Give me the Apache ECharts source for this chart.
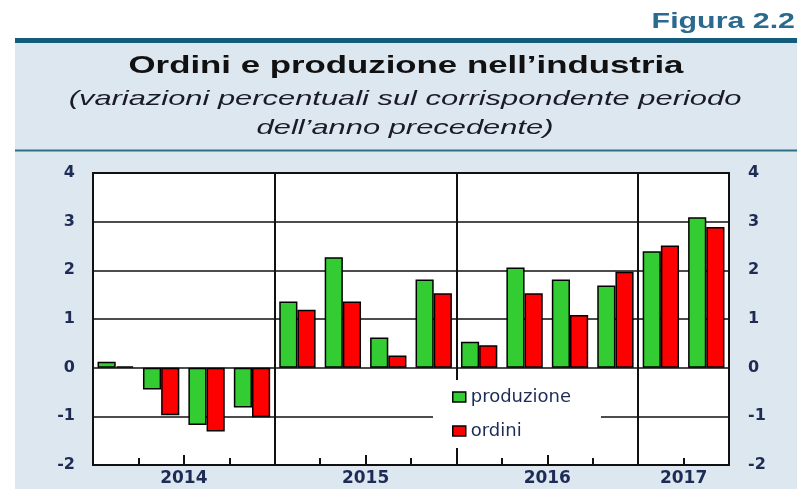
<!DOCTYPE html>
<html>
<head>
<meta charset="utf-8">
<script src="https://cdn.jsdelivr.net/npm/echarts@6/dist/echarts.min.js"></script>
<style>
html, body { margin: 0; padding: 0; background: #fff; }
#main { width: 797px; height: 489px; }
</style>
</head>
<body>
<div id="main"></div>
<script>
// trimestri 2014 T1 - 2017 T2
var quarters = ['2014 T1', '2014 T2', '2014 T3', '2014 T4',
	'2015 T1', '2015 T2', '2015 T3', '2015 T4',
	'2016 T1', '2016 T2', '2016 T3', '2016 T4',
	'2017 T1', '2017 T2']
var produzione = [0.12, -0.45, -1.18, -0.82, 1.36, 2.27, 0.62, 1.81, 0.53, 2.06, 1.81, 1.69, 2.39, 3.09]
var ordini = [0.03, -0.98, -1.31, -1.02, 1.19, 1.36, 0.25, 1.53, 0.46, 1.53, 1.08, 1.97, 2.51, 2.89]
var years = ['2014', '2015', '2016', '2017']
var yearLabelPos = [2, 6, 10, 13]
var quarterTicks = [1, 3, 5, 7, 9, 11, 13]
var midYearTicks = [2, 6, 10]
var yTicks = { min: -2, max: 4, step: 1 }

var navy = '#1d2b55'
var labelFont = 'DejaVu Sans'

var chart = echarts.init(document.getElementById('main'))

var option = {
	backgroundColor: '#dde7f0',
	animation: false,
	graphic: [
		// fascia bianca sopra e a sinistra
		{ type: 'rect', shape: { x: 0, y: 0, width: 797, height: 38 }, style: { fill: '#fff' }, silent: true },
		{ type: 'rect', shape: { x: 0, y: 0, width: 15, height: 489 }, style: { fill: '#fff' }, silent: true },
		{ type: 'rect', shape: { x: 15, y: 38, width: 782, height: 5 }, style: { fill: '#135d7a' }, silent: true },
		{ type: 'rect', shape: { x: 15, y: 149.5, width: 782, height: 2 }, style: { fill: '#2f6f88' }, silent: true },
		{
			type: 'text', x: 795, y: 22, scaleX: 1.38,
			style: { text: 'Figura 2.2', fontFamily: 'Liberation Sans', fontWeight: 'bold', fontSize: 22, fill: '#2a6a8f', align: 'right', verticalAlign: 'middle' }
		},
		{
			type: 'text', x: 406, y: 66, scaleX: 1.45,
			style: { text: 'Ordini e produzione nell\u2019industria', fontFamily: 'Liberation Sans', fontWeight: 'bold', fontSize: 24, fill: '#111', align: 'center', verticalAlign: 'middle' }
		},
		{
			type: 'text', x: 405, y: 99, scaleX: 1.47,
			style: { text: '(variazioni percentuali sul corrispondente periodo', fontFamily: 'Liberation Sans', fontStyle: 'italic', fontSize: 21, fill: '#1a1a2a', align: 'center', verticalAlign: 'middle' }
		},
		{
			type: 'text', x: 405, y: 128, scaleX: 1.47,
			style: { text: 'dell\u2019anno precedente)', fontFamily: 'Liberation Sans', fontStyle: 'italic', fontSize: 21, fill: '#1a1a2a', align: 'center', verticalAlign: 'middle' }
		}
	],
	grid: {
		left: 93, right: 68, top: 173, bottom: 24,
		show: true,
		backgroundColor: '#fff',
		borderColor: '#111',
		borderWidth: 2
	},
	legend: {
		data: ['produzione', 'ordini'],
		orient: 'vertical',
		left: 433, top: 380,
		padding: [7, 30, 7, 19],
		itemGap: 14,
		itemWidth: 13,
		itemHeight: 10,
		backgroundColor: '#fff',
		icon: 'rect',
		itemStyle: { borderColor: '#000', borderWidth: 1.5 },
		textStyle: { fontFamily: labelFont, fontSize: 18, color: navy, lineHeight: 20 }
	},
	xAxis: [{
		// asse dei trimestri per le barre
		type: 'category',
		position: 'bottom',
		data: quarters,
		show: false
	}, {
		// linee verticali fra gli anni
		type: 'value',
		position: 'bottom',
		min: 0, max: 14, interval: 4,
		axisLine: { show: false },
		axisTick: { show: false },
		axisLabel: { show: false },
		splitLine: { show: true, lineStyle: { color: '#111', width: 2 } }
	}, {
		// etichette degli anni e tacche dei trimestri
		type: 'value',
		position: 'bottom',
		min: 0, max: 14, interval: 1,
		axisLine: { show: false },
		axisTick: { show: true, inside: true, length: 7, customValues: quarterTicks, lineStyle: { color: '#111', width: 2 } },
		axisLabel: {
			customValues: yearLabelPos,
			margin: 5,
			fontFamily: labelFont, fontWeight: 'bold', fontSize: 17, color: navy,
			formatter: function (v) {
				var i = yearLabelPos.indexOf(v)
				return i >= 0 ? years[i] : ''
			}
		},
		splitLine: { show: false }
	}, {
		type: 'value',
		position: 'bottom',
		min: 0, max: 14, interval: 1,
		axisLine: { show: false },
		axisTick: { show: true, inside: true, length: 10, customValues: midYearTicks, lineStyle: { color: '#111', width: 2 } },
		axisLabel: { show: false },
		splitLine: { show: false }
	}],
	yAxis: [{
		type: 'value',
		min: yTicks.min, max: yTicks.max, interval: yTicks.step,
		axisLine: { show: false },
		axisTick: { show: false },
		axisLabel: { margin: 18, fontFamily: labelFont, fontWeight: 'bold', fontSize: 16, color: navy },
		splitLine: { show: true, lineStyle: { color: '#111', width: 1.5 } }
	}, {
		type: 'value',
		min: yTicks.min, max: yTicks.max, interval: yTicks.step,
		axisLine: { show: false },
		axisTick: { show: false },
		axisLabel: { margin: 19, fontFamily: labelFont, fontWeight: 'bold', fontSize: 16, color: navy },
		splitLine: { show: false }
	}],
	series: [{
		name: 'produzione',
		type: 'bar',
		xAxisIndex: 0,
		yAxisIndex: 0,
		barGap: '0%',
		barCategoryGap: '20%',
		itemStyle: { color: '#33cc33', borderColor: '#000', borderWidth: 1.5 },
		data: produzione
	}, {
		name: 'ordini',
		type: 'bar',
		xAxisIndex: 0,
		yAxisIndex: 0,
		itemStyle: { color: '#ff0000', borderColor: '#000', borderWidth: 1.5 },
		data: ordini
	}]
}

chart.setOption(option)
</script>
</body>
</html>
